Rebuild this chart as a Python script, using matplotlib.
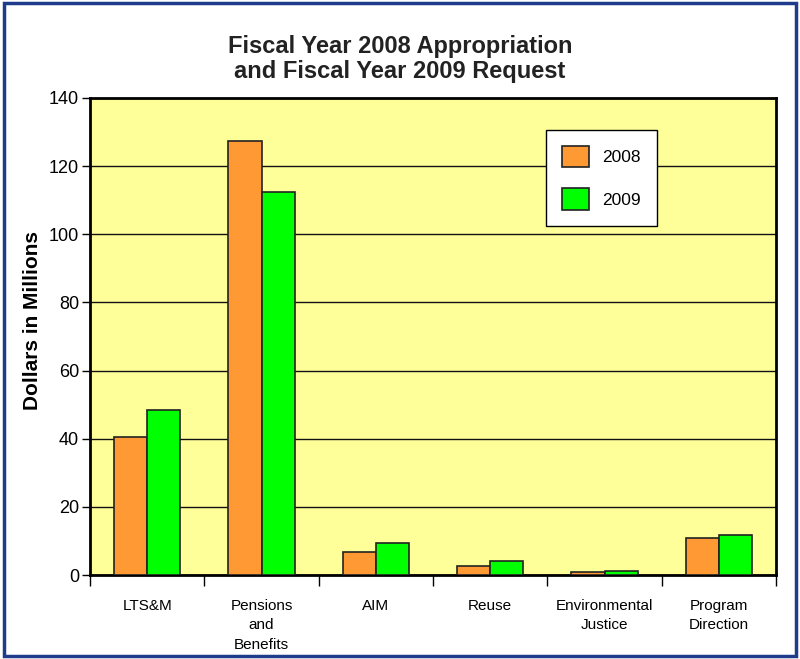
import numpy as np
import matplotlib.pyplot as plt
from matplotlib.patches import Rectangle

plt.rcParams['font.family'] = ['Liberation Sans', 'DejaVu Sans']

# --- DATA ---
categories = ["LTS&M", "Pensions\nand\nBenefits", "AIM", "Reuse",
              "Environmental\nJustice", "Program\nDirection"]
fy2008 = [40.5, 127.4, 6.8, 2.6, 0.8, 10.9]
fy2009 = [48.3, 112.3, 9.4, 4.1, 1.1, 11.6]
series_names = ["2008", "2009"]
y_ticks = [0, 20, 40, 60, 80, 100, 120, 140]

# --- PLOT ---
fig = plt.figure(figsize=(8, 6.59), dpi=100)
fig.patches.append(Rectangle((0.005, 0.005), 0.99, 0.99, transform=fig.transFigure,
                             fill=False, edgecolor="#1f3c8c", linewidth=2.5))

ax = fig.add_axes([90 / 800, 1 - 575 / 659, 686 / 800, 477 / 659])
ax.set_facecolor("#FFFF99")

x = np.arange(len(categories))
w = 0.29
ax.bar(x - w / 2, fy2008, width=w, color="#FF9933", edgecolor="#222222",
       linewidth=1.2, label=series_names[0], zorder=3)
ax.bar(x + w / 2, fy2009, width=w, color="#00FF00", edgecolor="#222222",
       linewidth=1.2, label=series_names[1], zorder=3)

ax.set_xlim(-0.5, len(categories) - 0.5)
ax.set_ylim(0, 140)
ax.set_yticks(y_ticks)
ax.tick_params(axis="y", direction="out", length=6, width=1, labelsize=13, pad=2)
ax.yaxis.grid(True, color="#111111", linewidth=1)
ax.set_axisbelow(True)

# x ticks at group boundaries, labels at centers
ax.set_xticks(np.arange(len(categories) + 1) - 0.5)
ax.set_xticklabels([])
ax.tick_params(axis="x", direction="out", length=8, width=1)
ax.set_xticks(x, minor=True)
ax.set_xticklabels(categories, minor=True, fontsize=11, linespacing=1.5)
ax.tick_params(axis="x", which="minor", length=0, pad=17)

for s in ax.spines.values():
    s.set_linewidth(2)
    s.set_color("black")

fig.text(33 / 800, 1 - 321 / 659, "Dollars in Millions", rotation=90,
         ha="center", va="center", fontsize=15, fontweight="bold")

fig.text(0.5, 1 - 59 / 659, "Fiscal Year 2008 Appropriation\nand Fiscal Year 2009 Request",
         ha="center", va="center", fontsize=17, fontweight="bold", color="#222222",
         linespacing=1.15)

leg = ax.legend(loc="upper left", bbox_to_anchor=((546 - 90) / 686, (575 - 130) / 477),
                borderaxespad=0, fontsize=12.5, frameon=True, fancybox=False,
                handlelength=1.55, handleheight=1.55, labelspacing=1.2, borderpad=0.9,
                handletextpad=0.8)
leg.get_frame().set_edgecolor("black")
leg.get_frame().set_linewidth(1)
leg.get_frame().set_facecolor("white")
leg.get_frame().set_alpha(1)

plt.savefig("out.png", dpi=100)
